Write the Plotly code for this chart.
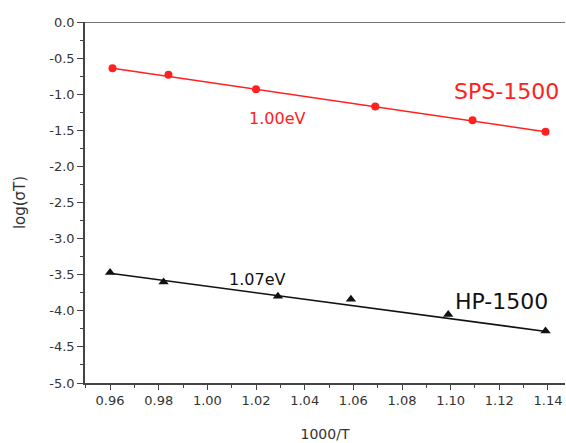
import plotly.graph_objects as go

# Data
sps_x = [0.961, 0.984, 1.020, 1.069, 1.109, 1.139]
sps_y = [-0.64, -0.73, -0.93, -1.17, -1.36, -1.52]
sps_fit_x = [0.961, 1.139]
sps_fit_y = [-0.64, -1.52]

hp_x = [0.960, 0.982, 1.029, 1.059, 1.099, 1.139]
hp_y = [-3.47, -3.60, -3.80, -3.84, -4.05, -4.28]
hp_fit_x = [0.960, 1.140]
hp_fit_y = [-3.48, -4.29]

x_ticks = [0.96, 0.98, 1.00, 1.02, 1.04, 1.06, 1.08, 1.10, 1.12, 1.14]
y_ticks = [0.0, -0.5, -1.0, -1.5, -2.0, -2.5, -3.0, -3.5, -4.0, -4.5, -5.0]

RED = "#ff2020"
BLACK = "#111111"
AXC = "#444444"
TXT = "#333333"
FONT = "DejaVu Sans, Arial, sans-serif"

fig = go.Figure()
fig.add_trace(go.Scatter(x=sps_fit_x, y=sps_fit_y, mode="lines",
                         line=dict(color=RED, width=1.6), showlegend=False, hoverinfo="skip"))
fig.add_trace(go.Scatter(x=sps_x, y=sps_y, mode="markers",
                         marker=dict(color=RED, size=8, symbol="circle"), showlegend=False))
fig.add_trace(go.Scatter(x=hp_fit_x, y=hp_fit_y, mode="lines",
                         line=dict(color=BLACK, width=1.6), showlegend=False, hoverinfo="skip"))
fig.add_trace(go.Scatter(x=hp_x, y=hp_y, mode="markers",
                         marker=dict(color=BLACK, size=9, symbol="triangle-up"), showlegend=False))

fig.add_annotation(x=1.0285, y=-1.33, text="1.00eV", showarrow=False,
                   font=dict(color=RED, size=16, family=FONT))
fig.add_annotation(x=1.123, y=-0.96, text="SPS-1500", showarrow=False,
                   font=dict(color=RED, size=22, family=FONT))
fig.add_annotation(x=1.0205, y=-3.56, text="1.07eV", showarrow=False,
                   font=dict(color=BLACK, size=16, family=FONT))
fig.add_annotation(x=1.1207, y=-3.87, text="HP-1500", showarrow=False,
                   font=dict(color=BLACK, size=22, family=FONT))

# top frame line
fig.add_shape(type="line", xref="paper", yref="y", x0=0, x1=1, y0=0, y1=0,
              line=dict(color=AXC, width=1.6))

fig.update_xaxes(range=[0.9497, 1.147], tickvals=x_ticks,
                 ticktext=[f"{v:.2f}" for v in x_ticks], automargin=False,
                 showgrid=False, zeroline=False, showline=True, linecolor=AXC, linewidth=1.6,
                 ticks="outside", ticklen=5, tickwidth=1.2, tickcolor=AXC,
                 minor=dict(dtick=0.01, tick0=0.95, ticks="outside", ticklen=3, tickcolor=AXC, tickwidth=1),
                 tickfont=dict(size=13, color=TXT, family=FONT),
                 title=dict(text="1000/T", font=dict(size=14, color=TXT, family=FONT), standoff=22))
fig.update_yaxes(range=[-5.0, 0.0], tickvals=y_ticks,
                 ticktext=[f"{v:.1f}" for v in y_ticks], automargin=False,
                 showgrid=False, zeroline=False, showline=True, linecolor=AXC, linewidth=1.6,
                 ticks="outside", ticklen=6, tickwidth=1.2, tickcolor=AXC,
                 minor=dict(dtick=0.25, tick0=0, ticks="outside", ticklen=3, tickcolor=AXC, tickwidth=1),
                 tickfont=dict(size=13, color=TXT, family=FONT),
                 title=dict(text="log(σT)", font=dict(size=15, color=TXT, family=FONT), standoff=20))

fig.update_layout(width=566, height=443, margin=dict(l=85, r=1, t=22, b=60),
                  plot_bgcolor="white", paper_bgcolor="white")

fig.write_html("out.html", config={"displayModeBar": False},
               post_script="document.body.style.margin='0';")
